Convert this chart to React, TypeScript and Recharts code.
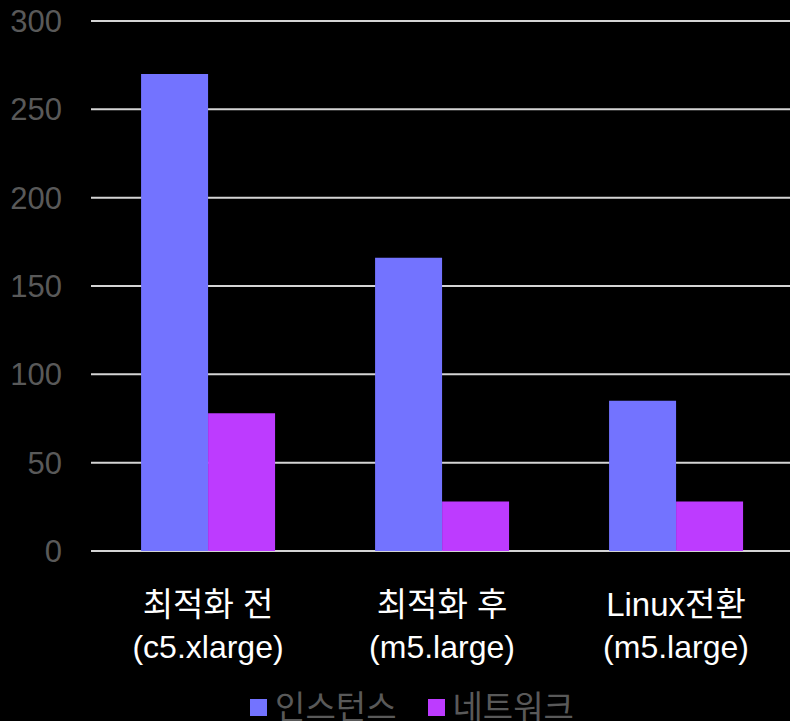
import { BarChart, Bar, XAxis, YAxis, CartesianGrid, Legend } from 'recharts'

const categories = ['최적화 전', '최적화 후', 'Linux전환']
const instanceTypes = ['(c5.xlarge)', '(m5.large)', '(m5.large)']
const instanceCost = [270, 166, 85]
const networkCost = [78, 28, 28]
const yTicks = [0, 50, 100, 150, 200, 250, 300]

const SERIES = [
  { key: 'instance', name: '인스턴스', color: '#7373ff' },
  { key: 'network', name: '네트워크', color: '#bd3bff' },
]

const FONT = "'Liberation Sans', 'Noto Sans CJK KR', Arial, sans-serif"

const data = categories.map((name, i) => ({
  name,
  type: instanceTypes[i],
  instance: instanceCost[i],
  network: networkCost[i],
}))

function CategoryTick({ x, y, payload, index }: any) {
  return (
    <text x={x} y={y} textAnchor="middle" fill="#ffffff" fontFamily={FONT}>
      <tspan x={x} dy={63} fontSize={33}>{payload.value}</tspan>
      <tspan x={x} dy={42} fontSize={32}>{instanceTypes[index]}</tspan>
    </text>
  )
}

function LegendRow() {
  return (
    <div
      style={{
        display: 'flex',
        justifyContent: 'center',
        alignItems: 'center',
        height: 46,
        fontFamily: FONT,
        fontSize: 33,
        color: '#595959',
      }}
    >
      {SERIES.map((s, i) => (
        <div key={s.key} style={{ display: 'flex', alignItems: 'center', marginLeft: i ? 31 : 0 }}>
          <span style={{ width: 17, height: 17, background: s.color, marginRight: 8 }} />
          <span style={{ lineHeight: '33px' }}>{s.name}</span>
        </div>
      ))}
    </div>
  )
}

export default function App() {
  return (
    <div
      style={{
        position: 'absolute',
        top: 0,
        left: 0,
        width: 790,
        height: 721,
        overflow: 'hidden',
        background: '#000000',
      }}
    >
      <BarChart
        width={794}
        height={730}
        data={data}
        margin={{ top: 21, right: 1, bottom: 0, left: 0 }}
        barCategoryGap="21.4%"
        barGap={0}
      >
        <CartesianGrid vertical={false} stroke="#d4d4d4" strokeWidth={2} />
        <XAxis
          dataKey="name"
          axisLine={false}
          tickLine={false}
          tickSize={0}
          height={133}
          interval={0}
          tick={<CategoryTick />}
        />
        <YAxis
          domain={[0, 300]}
          ticks={yTicks}
          width={91}
          axisLine={false}
          tickLine={false}
          tickSize={0}
          tickMargin={29}
          tick={{ fill: '#595959', fontSize: 31, fontFamily: FONT }}
        />
        <Legend
          verticalAlign="bottom"
          height={46}
          wrapperStyle={{ left: 0, width: 824 }}
          content={() => <LegendRow />}
        />
        {SERIES.map((s) => (
          <Bar key={s.key} dataKey={s.key} name={s.name} fill={s.color} isAnimationActive={false} />
        ))}
      </BarChart>
    </div>
  )
}
